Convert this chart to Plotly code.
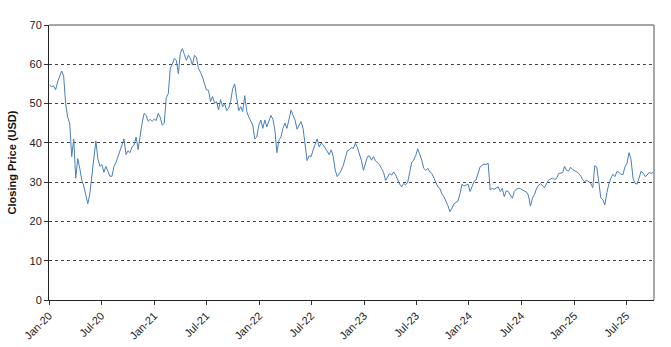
import pandas as pd
import plotly.graph_objects as go

# Weekly closing prices (USD), one list per calendar year
prices_2020 = [54.7, 54.3, 54.5, 53.5, 55.5, 57.0, 58.3, 57.0, 50.0, 46.5, 45.0, 36.5, 41.0,
               31.0, 36.0, 33.5, 30.5, 29.0, 27.0, 24.5, 27.0, 31.5, 35.0, 40.5, 36.0, 34.0,
               34.5, 32.5, 34.0, 32.5, 31.5, 31.5, 34.0, 35.0, 36.5, 38.5, 39.5, 41.0, 37.0,
               38.0, 37.5, 39.0, 39.5, 41.5, 38.3, 42.0, 45.0, 47.5, 47.0, 45.5, 46.0, 45.5]
prices_2021 = [46.0, 45.7, 47.5, 46.5, 44.5, 45.0, 51.5, 52.5, 59.0, 60.0, 61.5, 61.0, 57.6,
               62.8, 64.0, 62.5, 61.0, 62.3, 61.5, 59.8, 62.3, 61.8, 59.0, 58.0, 56.8, 55.0,
               53.5, 53.4, 50.5, 51.8, 50.1, 50.5, 48.4, 51.0, 49.2, 50.0, 48.2, 48.8, 50.5,
               53.8, 55.0, 51.5, 48.2, 49.2, 48.0, 52.0, 48.0, 46.6, 45.4, 44.5, 41.0, 41.5]
prices_2022 = [44.5, 45.8, 43.7, 45.8, 44.1, 45.5, 47.0, 46.0, 43.3, 37.5, 40.7, 41.5, 43.7,
               45.0, 43.7, 46.0, 48.3, 47.0, 45.8, 43.5, 44.5, 45.4, 43.7, 39.5, 35.5, 36.7,
               36.5, 38.2, 39.5, 41.0, 39.0, 39.9, 39.5, 38.6, 38.0, 37.0, 38.2, 36.5, 33.0,
               31.4, 32.2, 33.0, 34.3, 36.5, 38.0, 38.2, 38.8, 38.6, 39.9, 38.8, 37.0, 35.5]
prices_2023 = [33.0, 34.8, 36.5, 36.7, 35.6, 36.5, 35.4, 35.0, 34.4, 33.5, 32.5, 30.4, 31.5,
               32.2, 31.8, 32.6, 31.8, 30.6, 29.5, 28.8, 29.7, 29.3, 30.0, 32.5, 35.0, 35.6,
               36.8, 38.5, 37.0, 35.6, 33.5, 33.0, 33.5, 32.6, 32.2, 31.2, 29.8, 28.8, 28.4,
               27.0, 26.3, 25.3, 24.0, 22.5, 23.3, 24.5, 24.8, 25.2, 27.1, 29.5, 29.0, 29.2]
prices_2024 = [29.5, 27.6, 29.0, 30.2, 30.6, 32.0, 33.9, 34.3, 34.6, 34.5, 34.8, 28.0, 28.4,
               28.2, 28.6, 28.8, 27.6, 28.4, 26.3, 27.8, 27.6, 26.7, 25.9, 27.6, 28.2, 28.4,
               28.4, 28.0, 27.8, 27.5, 26.7, 23.9, 25.9, 26.8, 28.3, 29.2, 29.6, 29.0, 28.6,
               29.6, 30.5, 30.8, 31.0, 30.7, 30.9, 32.2, 32.4, 32.4, 34.0, 33.0, 32.8, 33.8]
prices_2025 = [33.2, 33.0, 32.6, 32.2, 31.6, 30.6, 30.1, 30.5, 30.0, 29.7, 28.6, 34.2, 33.8,
               30.5, 26.0, 25.5, 24.2, 27.3, 29.6, 31.0, 32.0, 31.4, 32.7, 32.5, 32.0, 31.9,
               33.9, 34.8, 37.5, 35.8, 31.0, 29.7, 29.5, 31.0, 32.8, 32.3, 31.4, 31.8, 32.5,
               32.2, 32.5]

prices = prices_2020 + prices_2021 + prices_2022 + prices_2023 + prices_2024 + prices_2025
dates = pd.date_range("2020-01-03", periods=len(prices), freq="7D")

y_ticks = [0, 10, 20, 30, 40, 50, 60, 70]
y_title = "Closing Price (USD)"

font_family = "Arial, Liberation Sans, sans-serif"

fig = go.Figure(
    go.Scatter(
        x=dates,
        y=prices,
        mode="lines",
        line=dict(color="#4a7ebb", width=1),
        hoverinfo="x+y",
    )
)

fig.update_layout(
    width=671,
    height=347,
    margin=dict(l=49, r=17, t=25, b=47),
    paper_bgcolor="white",
    plot_bgcolor="white",
    showlegend=False,
    font=dict(family=font_family, size=11, color="#222"),
)

fig.update_xaxes(
    type="date",
    range=["2020-01-01", "2025-10-06"],
    tick0="2020-01-01",
    dtick="M6",
    tickformat="%b-%y",
    tickangle=-45,
    ticks="outside",
    ticklen=4,
    tickcolor="#333",
    showgrid=False,
    showline=True,
    linecolor="#222",
    linewidth=1,
    automargin=False,
    tickfont=dict(size=11, color="#222"),
)

fig.update_yaxes(
    range=[0, 70],
    tickvals=y_ticks,
    ticks="outside",
    ticklen=4,
    tickcolor="#333",
    showgrid=True,
    gridcolor="#444",
    griddash="dot",
    gridwidth=1,
    zeroline=False,
    showline=True,
    linecolor="#222",
    linewidth=1,
    automargin=False,
    tickfont=dict(size=11, color="#222"),
    title=dict(text=f"<b>{y_title}</b>", font=dict(size=11, color="#111"), standoff=10),
)

# Top and right frame of the plotting area
fig.add_shape(type="line", xref="x domain", yref="y domain", x0=0, x1=1, y0=1, y1=1,
              line=dict(color="#888", width=1.5))
fig.add_shape(type="line", xref="x domain", yref="y domain", x0=1, x1=1, y0=0, y1=1,
              line=dict(color="#888", width=1.5))

fig.write_html("out.html")
